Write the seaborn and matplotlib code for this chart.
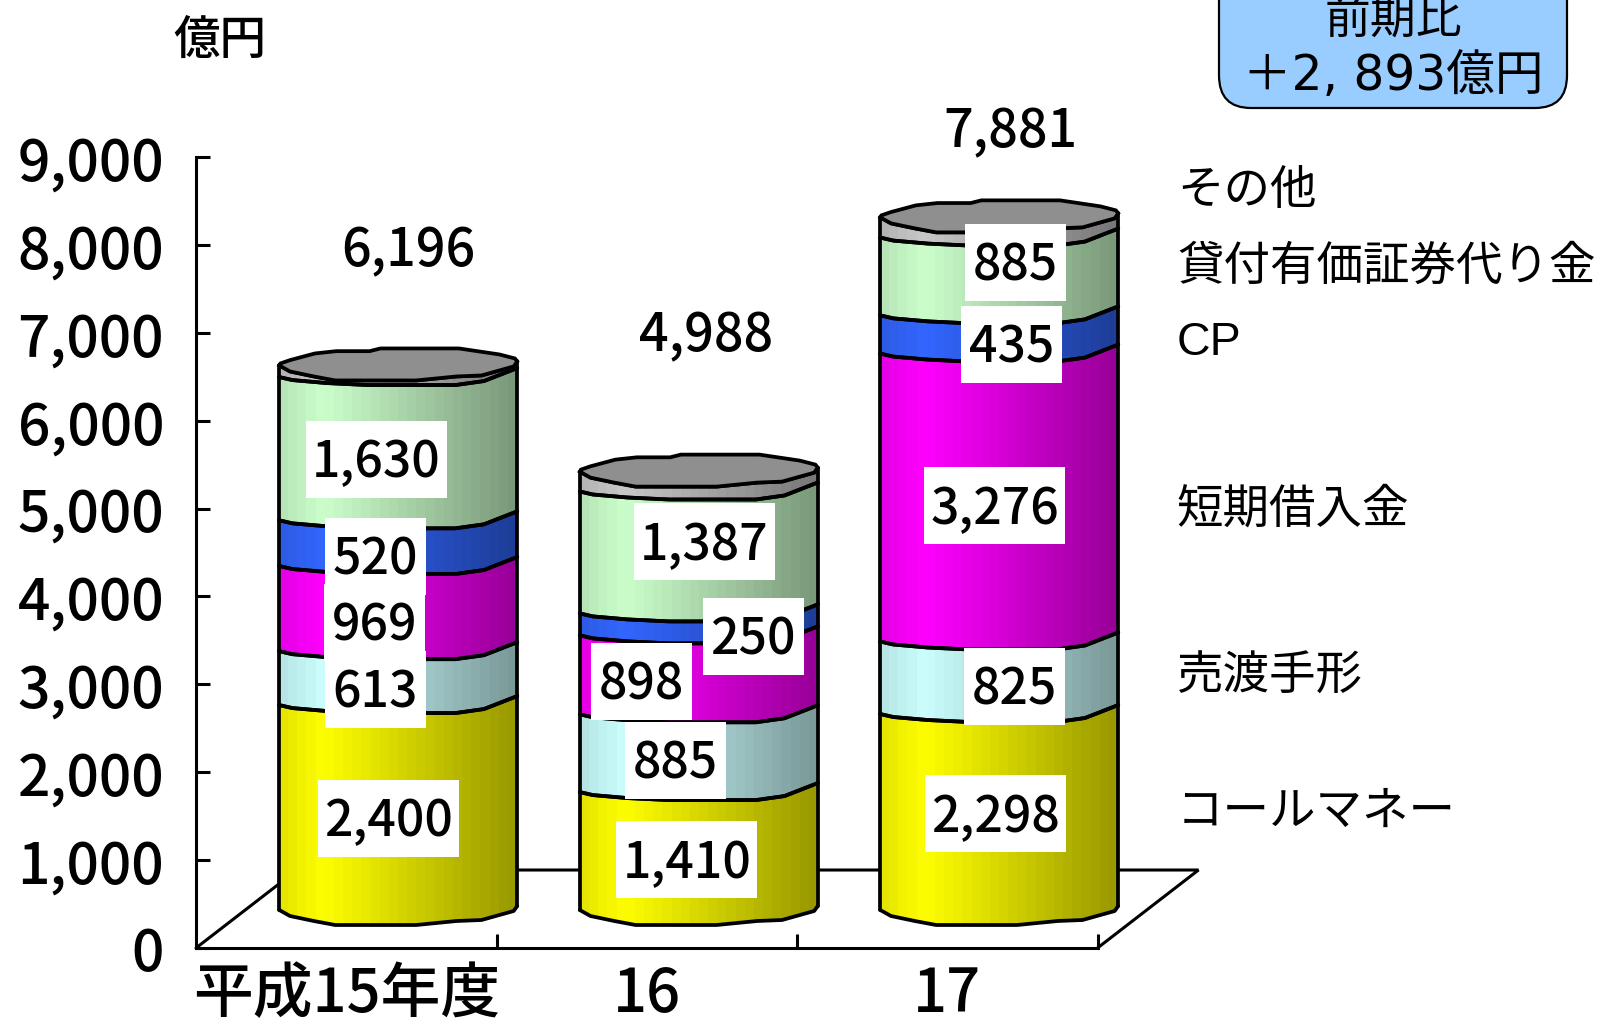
# -*- coding: utf-8 -*-
# stacked cylinder chart (bars come from seaborn, cylinders are built on top of them)
import matplotlib
matplotlib.use("Agg")
import matplotlib.pyplot as plt
from matplotlib.patches import FancyBboxPatch, Polygon, Rectangle
import numpy as np
import seaborn as sns

# data
years = ["平成15年度", "16", "17"]
series_names = ["コールマネー", "売渡手形", "短期借入金", "CP", "貸付有価証券代り金", "その他"]
call_money = [2400, 1410, 2298]
bills_sold = [613, 885, 825]
short_loans = [969, 898, 3276]
cp = [520, 250, 435]
securities_cash = [1630, 1387, 885]
others = [64, 158, 162]
totals = [6196, 4988, 7881]
yticks = [0, 1000, 2000, 3000, 4000, 5000, 6000, 7000, 8000, 9000]

stack = [call_money, bills_sold, short_loans, cp, securities_cash, others]
colors = ["#FFFF00", "#CCFFFF", "#FF00FF", "#3366FF", "#CCFFCC", "#C8C8C8"]

# layout, all in pixels of the 1600x1020 picture
W, H = 1600, 1020
PX_PER_UNIT = 0.0879
CAT_PX = 300.5
BAR_W = 238 / CAT_PX
SHIFT_X = 52 / CAT_PX
SHIFT_Y = 40 / PX_PER_UNIT
FLOOR_X = 101 / CAT_PX
FLOOR_Y = 78 / PX_PER_UNIT
LINE = 2.7
FONT = ["Noto Sans CJK JP", "DejaVu Sans"]

# label centres, same order as stack, shrunk picture coordinates
label_xy = [
    [(381, 803), (673, 844), (976, 799)],
    [(368, 677), (662, 747), (994, 674)],
    [(367, 611), (629, 669), (975, 497)],
    [(368, 547), (738, 625), (991, 339)],
    [(369, 451), (690, 532), (995, 258)],
]
total_xy = [(400, 243), (692, 327), (990, 127)]
name_y = [793, 660, 496, 333, 258, 184]

# outline of one cylinder slice: u across the width, pixels below the centre line
front_u = np.array([-1, -0.91, -0.71, -0.53, 0.15, 0.49, 0.70, 0.97, 1])
front_v = np.array([2, 8, 13, 17, 17, 13, 12, 3, -2]) / PX_PER_UNIT
seam_u = np.array([-1, -0.89, -0.6, -0.25, 0.48, 0.72, 1])
seam_v = np.array([8, 11, 14, 16, 16, 12, -1]) / PX_PER_UNIT
back_u = np.array([1, 0.98, 0.85, 0.68, 0.51, -0.15, -0.24, -0.52, -0.70, -0.91, -0.99, -1])
back_v = np.array([-2, -5, -9, -12, -15, -15, -12.3, -12.3, -10, -3.3, 0, 2]) / PX_PER_UNIT


def fx(x):
    return x / W


def fy(y):
    return 1 - y / H


def shrunk(p):
    return p[0] * W / 1568, p[1] * H / 1000


def shade(hex_color):
    # vertical facets, brightest left of the middle
    u = np.linspace(-1, 1, 26)
    light = np.interp(u, [-1, -0.65, 1], [0.9, 1.0, 0.6])
    rgb = np.array(matplotlib.colors.to_rgb(hex_color))
    return (light[:, None] * rgb)[None, :, :]


sns.set_theme(style="white")
plt.rcParams["font.family"] = FONT

fig = plt.figure(figsize=(W / 100, H / 100), dpi=100)
ax = fig.add_axes([fx(196), fy(949), 3.5 * CAT_PX / W, (949 - 158) / H])

bottoms = np.zeros(3)
layers = []
for vals, col in zip(stack, colors):
    before = len(ax.patches)
    sns.barplot(x=years, y=vals, bottom=bottoms + SHIFT_Y, width=BAR_W, color=col, saturation=1, ax=ax)
    layers.append((col, ax.patches[before:]))
    bottoms = bottoms + np.array(vals)

ax.set_xlim(-0.5, 3.0)
ax.set_ylim(0, 9000)

# floor of the box
ax.plot([-0.5, -0.5 + FLOOR_X, 2.5 + FLOOR_X, 2.5], [0, FLOOR_Y, FLOOR_Y, 0], color="black", lw=2.2,
        clip_on=False, zorder=1, solid_joinstyle="miter")

# turn each seaborn bar into a cylinder slice
for i, (col, bars) in enumerate(layers):
    for bar in bars:
        left = bar.get_x() + SHIFT_X
        w = bar.get_width()
        y0 = bar.get_y()
        y1 = y0 + bar.get_height()
        bar.set_visible(False)
        lu, lv = (front_u, front_v) if i == 0 else (seam_u, seam_v)
        hu, hv = (front_u, front_v) if i == len(layers) - 1 else (seam_u, seam_v)
        low = np.column_stack([left + (lu + 1) / 2 * w, y0 - lv])
        high = np.column_stack([left + (hu + 1) / 2 * w, y1 - hv])
        outline = Polygon(np.vstack([low, high[::-1]]), closed=True, fc="none", ec="none", zorder=2)
        ax.add_patch(outline)
        im = ax.imshow(shade(col), extent=[left, left + w, y0 - 400, y1 + 400], aspect="auto",
                       interpolation="nearest", zorder=2)
        im.set_clip_path(outline)
        ax.plot(low[:, 0], low[:, 1], color="black", lw=LINE, zorder=3, solid_capstyle="round")
        ax.plot(high[:, 0], high[:, 1], color="black", lw=LINE, zorder=3, solid_capstyle="round")
        ax.plot([left, left], [low[0, 1], high[0, 1]], color="black", lw=LINE, zorder=3)
        ax.plot([left + w, left + w], [low[-1, 1], high[-1, 1]], color="black", lw=LINE, zorder=3)

# lids
for bar in layers[-1][1]:
    left = bar.get_x() + SHIFT_X
    w = bar.get_width()
    top = bar.get_y() + bar.get_height()
    pts = np.vstack([np.column_stack([left + (front_u + 1) / 2 * w, top - front_v]),
                     np.column_stack([left + (back_u + 1) / 2 * w, top - back_v])])
    ax.add_patch(Polygon(pts, closed=True, fc="#8F8F8F", ec="black", lw=LINE, zorder=4))

ax.set_xlim(-0.5, 3.0)
ax.set_ylim(0, 9000)

# axes
for name in ["top", "right"]:
    ax.spines[name].set_visible(False)
for name in ["left", "bottom"]:
    ax.spines[name].set_linewidth(2.2)
    ax.spines[name].set_color("black")
ax.spines["bottom"].set_bounds(-0.5, 2.5)
ax.set_yticks(yticks)
ax.set_yticklabels([f"{t:,}" for t in yticks], fontsize=41, fontweight="medium")
ax.tick_params(axis="y", which="major", direction="in", length=10, width=2.2, left=True, pad=23, colors="black")
ax.set_xticks([0, 1, 2])
ax.set_xticklabels(years, fontsize=43, fontweight="medium")
ax.tick_params(axis="x", which="major", length=0, pad=11, colors="black")
ax.set_xticks([0.5, 1.5, 2.5], minor=True)
ax.tick_params(axis="x", which="minor", direction="in", length=10, width=2.2, bottom=True, color="black")
ax.set_xlabel("")
ax.set_ylabel("")
ax.patch.set_alpha(0)

# value labels on white boxes
for vals, spots in zip(stack, label_xy):
    for v, spot in zip(vals, spots):
        x, y = shrunk(spot)
        bw = 141 if v >= 1000 else 101
        fig.add_artist(Rectangle((fx(x - bw / 2), fy(y + 38.5)), bw / W, 77 / H, transform=fig.transFigure,
                                 fc="white", ec="none", zorder=5))
        fig.text(fx(x), fy(y + 3), f"{v:,}", ha="center", va="center", fontsize=36, fontweight="medium",
                 color="black", zorder=6)

# totals
for t, spot in zip(totals, total_xy):
    x, y = shrunk(spot)
    fig.text(fx(x), fy(y + 3), f"{t:,}", ha="center", va="center", fontsize=37.5, fontweight="medium",
             color="black", zorder=6)

# series names on the right
for name, y in zip(series_names, name_y):
    fam = ["Liberation Sans"] if name == "CP" else FONT
    fig.text(fx(1177), fy(y * H / 1000 + 3), name, ha="left", va="center", fontsize=33.5, color="black",
             family=fam, zorder=6)

fig.text(fx(220), fy(40), "億円", ha="center", va="center", fontsize=33.5, fontweight="medium", color="black", zorder=6)

# change box, runs off the top of the picture
fig.add_artist(FancyBboxPatch((fx(1219), fy(109)), 348 / W, 160 / H, transform=fig.transFigure,
                              boxstyle="round,pad=0,rounding_size=0.02", mutation_aspect=1.6,
                              fc="#99CCFF", ec="black", lw=1.6, zorder=5))
fig.text(fx(1393), fy(19), "前期比", ha="center", va="center", fontsize=33, color="black", zorder=6)
fig.text(fx(1393), fy(76), "＋2, 893億円", ha="center", va="center", fontsize=35,
         family=["DejaVu Sans", "Noto Sans CJK JP"], color="black", zorder=6)

fig.savefig("out.png", dpi=100)
